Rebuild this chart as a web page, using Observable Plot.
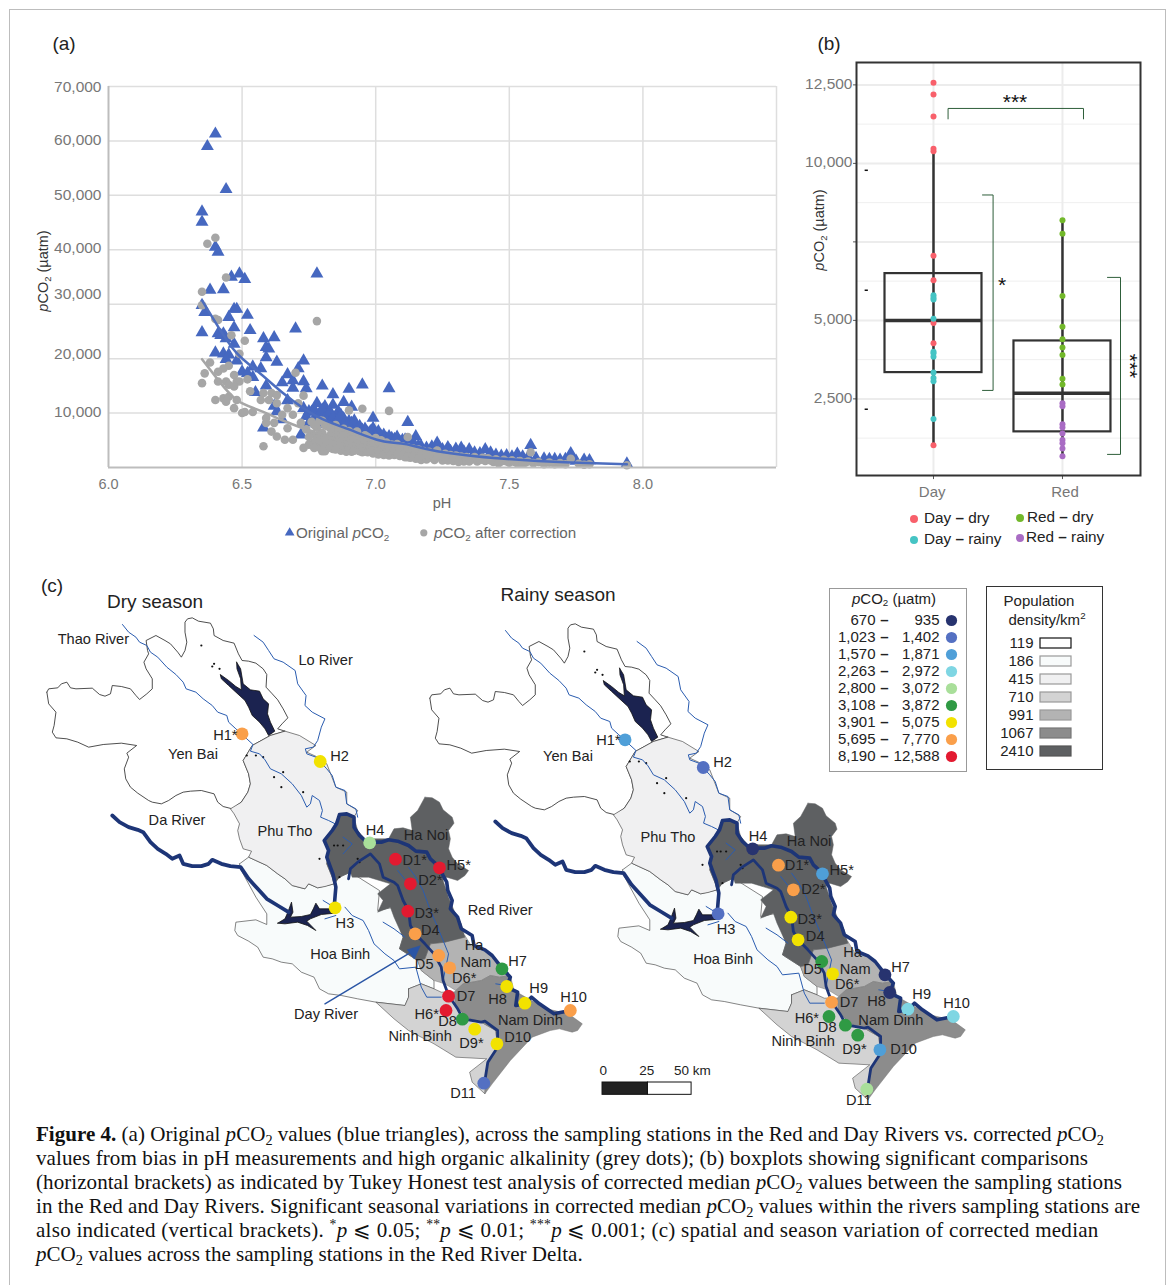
<!DOCTYPE html>
<html><head><meta charset="utf-8">
<script src="https://cdn.jsdelivr.net/npm/d3@7"></script>
<script src="https://cdn.jsdelivr.net/npm/@observablehq/plot@0.6"></script>
<style>
html,body{margin:0;padding:0;background:#fff;}
#page{position:relative;width:1171px;height:1285px;overflow:hidden;font-family:"Liberation Sans",Arial,sans-serif;}
#edge{position:absolute;left:9px;top:9px;width:1155px;height:1290px;border:1px solid #bdbdbd;}
.abs{position:absolute;}
.abs svg{display:block;overflow:visible;background:transparent;}
.lbl{position:absolute;white-space:nowrap;line-height:1;}
.lbl sub{font-size:65%;line-height:0;vertical-align:-0.3em;}
.cap{position:absolute;left:36px;white-space:nowrap;font-family:"Liberation Serif",serif;font-size:21.05px;line-height:1;color:#111;}
.cap sub{font-size:68%;line-height:0;vertical-align:-0.25em;}
</style></head>
<body><div id="page"><div id="edge"></div></div>
<script>
// ---------- panel (a): pH, pCO2 in thousands of µatm
const originalSparse = [[6.40,61.3],[6.37,59.0],[6.44,51.1],[6.35,47.0],[6.35,45.1],[6.40,40.5],[6.41,39.6],[6.46,35.0],[6.49,35.6],[6.51,34.6],[6.78,35.6],[6.38,32.6],[6.43,32.7],[6.35,29.8],[6.36,28.5],[6.47,29.1],[6.48,29.1],[6.45,27.6],[6.52,28.0],[6.35,24.8],[6.47,25.7],[6.53,25.2],[6.70,25.5],[6.41,24.6],[6.42,24.3],[6.43,24.6],[6.44,23.7],[6.58,23.7],[6.62,23.9],[6.47,22.7],[6.59,22.1],[6.60,21.8],[6.40,21.1],[6.43,20.9],[6.45,20.7],[6.44,19.9],[6.59,20.2],[6.48,19.6],[6.63,19.4],[6.73,19.6],[6.71,18.2],[6.57,18.2],[6.50,17.6],[6.54,18.5],[6.52,17.3],[6.54,16.6],[6.67,17.1],[6.65,15.6],[6.69,16.0],[6.73,15.8],[6.74,14.5],[6.69,14.6],[6.80,15.0],[6.59,15.0],[6.95,15.2],[6.90,14.4],[7.05,14.5],[6.55,13.8],[6.84,13.4],[6.67,12.3],[6.88,12.0],[6.78,11.8],[6.81,11.2],[6.84,11.5],[6.91,11.1],[6.86,10.3],[6.73,10.9],[6.75,10.3],[6.62,11.3],[6.63,10.3],[6.99,9.1],[7.12,8.3],[6.90,8.5],[6.78,9.1],[6.58,7.3],[6.65,8.8],[7.15,5.7],[6.72,6.0],[7.58,4.1],[7.73,2.6],[7.94,0.7]];
const originalBand = [[6.76,10.2],[6.77,9.0],[6.79,10.0],[6.80,8.2],[6.82,9.6],[6.83,8.4],[6.85,9.4],[6.86,8.0],[6.88,9.0],[6.89,7.7],[6.91,8.2],[6.92,7.2],[6.94,7.6],[6.95,6.9],[6.96,7.1],[6.97,6.4],[6.98,6.6],[6.99,7.2],[7.00,6.3],[7.01,6.6],[7.02,5.8],[7.03,6.0],[7.04,5.3],[7.05,5.7],[7.06,5.4],[7.07,5.2],[7.08,5.6],[7.09,4.8],[7.10,5.0],[7.11,5.1],[7.13,4.4],[7.14,4.6],[7.16,4.0],[7.17,3.9],[7.19,3.6],[7.21,3.8],[7.23,4.5],[7.24,3.5],[7.25,3.3],[7.27,3.7],[7.28,3.0],[7.30,3.4],[7.32,3.6],[7.33,2.9],[7.35,3.3],[7.37,2.7],[7.39,2.6],[7.41,3.3],[7.43,2.7],[7.45,2.3],[7.47,2.1],[7.49,2.2],[7.51,2.0],[7.53,2.5],[7.55,2.0],[7.57,1.9],[7.60,1.7],[7.63,1.6],[7.65,1.5],[7.67,1.5],[7.69,1.4],[7.71,1.5],[7.75,1.2],[7.78,1.4],[7.80,1.3],[6.74,9.4],[6.75,8.2],[6.77,10.6],[6.78,8.0],[6.80,10.6],[6.81,9.0],[6.83,10.2],[6.84,9.2],[6.86,9.0],[6.87,9.6],[6.88,7.8],[6.90,7.6],[6.92,8.6],[6.93,7.0],[6.96,6.6],[6.98,5.9],[7.00,5.6],[7.03,5.2]];
const correctedSparse = [[6.40,42.2],[6.37,41.1],[6.44,34.9],[6.35,32.3],[6.35,29.8],[6.40,27.3],[6.41,27.1],[6.46,24.3],[6.51,23.3],[6.78,26.9],[6.49,20.9],[6.38,19.3],[6.36,17.3],[6.35,15.5],[6.45,18.7],[6.43,18.2],[6.41,17.6],[6.70,17.4],[6.41,15.8],[6.44,15.8],[6.45,15.2],[6.47,17.0],[6.48,15.8],[6.49,15.8],[6.52,16.2],[6.47,14.9],[6.40,12.4],[6.43,12.7],[6.45,13.0],[6.44,12.1],[6.48,12.4],[6.47,10.9],[6.53,14.0],[6.50,10.0],[6.51,10.2],[6.54,10.2],[6.57,12.4],[6.58,13.7],[6.60,12.4],[6.61,13.7],[6.63,13.3],[6.63,11.8],[6.73,13.2],[6.67,10.9],[6.69,9.7],[6.59,9.1],[6.59,8.2],[6.62,8.2],[6.61,6.6],[6.63,5.7],[6.66,5.1],[6.69,5.1],[6.58,3.9],[6.67,7.2],[6.65,9.7],[6.73,3.6],[6.77,3.9],[6.80,3.0],[6.90,10.5],[6.95,10.8],[7.05,10.4],[7.12,5.6],[6.71,11.8],[7.58,2.8],[7.73,1.6],[7.94,0.4]];
const correctedBand = [[6.76,8.4],[6.76,6.2],[6.77,4.6],[6.78,7.3],[6.78,5.4],[6.79,3.7],[6.80,8.6],[6.80,6.4],[6.80,4.7],[6.81,3.0],[6.82,7.6],[6.82,5.5],[6.83,4.2],[6.84,6.7],[6.84,3.4],[6.85,7.8],[6.85,5.2],[6.86,4.1],[6.87,6.4],[6.87,3.1],[6.88,7.1],[6.88,5.0],[6.89,3.6],[6.90,6.7],[6.90,5.6],[6.90,4.3],[6.91,2.9],[6.92,6.2],[6.92,4.8],[6.93,3.5],[6.94,5.5],[6.94,4.1],[6.95,2.8],[6.96,5.9],[6.96,4.6],[6.97,3.4],[6.98,5.2],[6.98,3.9],[6.99,2.6],[7.00,5.4],[7.00,4.3],[7.00,3.1],[7.01,2.4],[7.02,5.0],[7.02,3.8],[7.03,2.9],[7.04,4.6],[7.04,3.4],[7.05,2.2],[7.06,4.2],[7.06,3.0],[7.07,2.3],[7.08,4.3],[7.08,3.3],[7.09,2.1],[7.10,3.9],[7.10,2.8],[7.11,1.9],[7.12,3.7],[7.12,2.5],[7.13,1.8],[7.14,3.5],[7.14,2.4],[7.15,1.6],[7.16,3.3],[7.16,2.2],[7.17,1.4],[7.18,3.0],[7.18,2.1],[7.19,1.5],[7.20,2.9],[7.20,1.8],[7.22,2.7],[7.22,1.4],[7.23,3.1],[7.24,2.1],[7.25,1.3],[7.26,2.5],[7.27,1.7],[7.28,2.3],[7.29,1.2],[7.30,2.2],[7.31,1.5],[7.32,2.0],[7.33,1.1],[7.34,1.9],[7.36,1.5],[7.37,1.9],[7.38,1.1],[7.40,1.8],[7.41,1.2],[7.42,1.7],[7.44,1.0],[7.45,1.5],[7.47,1.1],[7.48,1.4],[7.50,0.9],[7.51,1.3],[7.53,0.8],[7.54,1.2],[7.56,0.9],[7.57,1.1],[7.59,0.8],[7.61,1.0],[7.63,0.6],[7.65,0.9],[7.67,0.6],[7.69,0.8],[7.71,0.6],[7.76,0.7],[7.78,0.5],[7.80,0.6],[6.74,7.0],[6.72,8.2],[6.75,4.2],[6.79,6.0],[6.81,7.8],[6.83,5.9],[6.86,6.8],[6.88,3.9],[6.91,5.2],[6.93,6.6],[6.95,4.9],[6.97,5.6],[7.01,3.6],[7.03,4.2],[7.05,3.8],[7.07,3.6],[7.09,3.0],[7.11,3.3],[7.13,2.9],[7.15,2.8],[7.17,2.6],[7.19,2.4],[7.21,2.2],[7.23,1.9],[7.25,2.0],[7.27,1.3],[7.29,1.8],[7.31,1.0],[7.35,1.1],[7.39,1.4],[7.43,1.3],[7.46,0.8],[7.49,1.1],[7.52,1.0],[7.55,0.7],[6.75,5.6],[6.77,7.8],[6.77,3.6],[6.79,5.0],[6.79,8.6],[6.81,5.2],[6.81,3.9],[6.82,4.8],[6.83,7.2],[6.83,3.6],[6.84,5.0],[6.85,4.5],[6.85,3.3],[6.86,5.9],[6.87,5.3],[6.87,4.5],[6.88,5.9],[6.89,2.9],[6.89,4.7],[6.90,3.5],[6.91,4.0],[6.92,3.1],[6.93,4.3],[6.94,3.0],[6.95,3.7],[6.97,2.8],[6.98,3.1],[6.99,4.6],[7.01,4.8],[7.01,3.0],[7.03,2.3],[7.05,3.0],[7.06,2.5],[7.07,2.9],[7.08,2.6],[7.09,3.5],[7.10,2.3],[7.12,1.9],[7.14,2.0],[7.16,1.7]];
const originalTrend = [[6.35,30.7],[6.41,25.9],[6.48,21.0],[6.56,17.6],[6.66,13.4],[6.78,9.4],[6.90,7.0],[7.02,4.9],[7.11,4.3],[7.23,3.0],[7.48,1.6],[7.73,0.9],[7.94,0.6]];
const correctedTrend = [[6.35,19.9],[6.41,16.1],[6.48,12.4],[6.56,10.6],[6.66,8.5],[6.78,6.3],[6.90,4.5],[7.02,3.3]];
const yTicksA = [10000,20000,30000,40000,50000,60000,70000];
const yLabelAtA = [10200,20800,31800,40400,50100,60200,69900];
const xTicksA = [6,6.5,7,7.5,8];

// ---------- panel (b)
const rivers = ["Day","Red"];
const dayDry = [12565,12190,11490,10470,10390,7060,6280,4914,4270,1020];
const dayRainy = [5800,5720,5665,5050,4000,3950,3840,3340,3165,3060,1860];
const redDry = [8190,7760,5780,4800,4400,4140,3895,3140,2960];
const redRainy = [2360,2265,1695,1590,1395,1190,1085,920,675];
const boxLow = [3337,1450], boxMid = [5000,2680], boxHigh = [6490,4345], whiskLow = [1020,675], whiskHigh = [10390,8190];
const yMajorB = [2500,5000,7500,10000,12500];
const yMinorB = [1250,3750,6250,8750,11250];
const yLabelsB = [[12500,"12,500"],[10000,"10,000"],[5000,"5,000"],[2500,"2,500"]];
const strayDashes = [2170,5960,9780];
const bracketTop = [[0.113,11417],[0.113,11750],[1.163,11750],[1.163,11417]];
const bracketDay = [[0.38,8994],[0.462,8994],[0.462,2770],[0.38,2770]];
const bracketRed = [[1.349,6369],[1.45,6369],[1.45,732],[1.349,732]];

// ---------- panel (c): outlines traced in map units
const yenBai = [[45,275],[50,265],[75,262],[85,250],[100,245],[110,262],[125,265],[170,263],[190,282],[205,287],[220,280],[225,255],[250,258],[275,265],[290,285],[300,297],[320,280],[335,265],[335,235],[318,205],[312,185],[325,160],[322,150],[318,120],[345,105],[370,120],[385,130],[405,155],[415,170],[425,150],[430,125],[425,95],[425,65],[432,55],[445,52],[462,62],[495,68],[503,85],[505,105],[530,120],[560,128],[572,160],[582,180],[600,182],[620,188],[640,205],[650,222],[648,260],[665,280],[680,298],[695,325],[708,352],[692,370],[680,385],[700,392],[660,405],[610,435],[585,480],[600,520],[605,550],[598,575],[580,605],[555,625],[530,618],[515,605],[505,580],[470,570],[440,572],[420,575],[400,585],[380,600],[360,610],[335,605],[325,600],[295,578],[275,560],[262,535],[258,505],[270,470],[265,458],[292,435],[250,428],[200,432],[160,440],[130,425],[100,415],[70,412],[60,395],[65,375],[70,335],[50,310]];
const phuTho = [[700,392],[740,405],[785,435],[760,455],[790,470],[815,490],[840,560],[870,575],[870,610],[900,630],[890,650],[850,640],[835,680],[810,715],[820,760],[815,790],[830,830],[835,850],[810,858],[790,862],[765,850],[755,865],[720,855],[700,835],[680,820],[650,795],[620,780],[600,770],[608,752],[585,745],[575,715],[570,690],[575,670],[560,640],[550,625],[580,605],[598,575],[605,550],[600,520],[585,480],[610,435],[660,405]];
const hoaBinh = [[575,790],[600,770],[620,780],[650,795],[680,820],[700,835],[720,855],[755,865],[765,850],[790,862],[835,850],[850,830],[880,815],[960,870],[955,930],[1000,920],[1010,960],[1025,1010],[1015,1045],[1065,1080],[1075,1110],[1110,1140],[1110,1165],[1075,1150],[1040,1165],[1040,1190],[1030,1215],[950,1205],[900,1195],[855,1185],[820,1180],[795,1165],[780,1130],[745,1115],[720,1090],[690,1085],[665,1075],[640,1070],[625,1040],[600,1022],[570,1005],[562,990],[565,965],[620,958],[650,972],[650,940],[620,890],[580,810]];
const haNoi = [[1085,590],[1105,592],[1125,605],[1135,628],[1160,650],[1165,668],[1150,690],[1155,715],[1150,745],[1160,770],[1175,790],[1205,810],[1195,825],[1175,840],[1145,830],[1135,840],[1150,890],[1165,930],[1185,970],[1195,1010],[1140,1025],[1100,1030],[1085,1075],[1065,1080],[1015,1045],[1025,1010],[1000,950],[990,920],[955,935],[970,900],[955,880],[990,850],[930,830],[885,830],[880,815],[850,830],[835,850],[830,830],[815,790],[820,760],[808,715],[835,680],[850,640],[890,650],[900,690],[920,715],[985,715],[1000,685],[1025,682],[1050,690],[1045,650],[1065,630]];
const haNam = [[1195,1005],[1215,1040],[1250,1050],[1290,1090],[1320,1125],[1290,1130],[1265,1125],[1240,1140],[1190,1150],[1170,1170],[1140,1150],[1110,1140],[1075,1110],[1065,1080],[1085,1075],[1100,1030],[1140,1025]];
const namDinh = [[1320,1125],[1330,1170],[1370,1195],[1420,1225],[1480,1240],[1518,1270],[1505,1290],[1490,1295],[1455,1285],[1430,1290],[1380,1310],[1320,1380],[1270,1450],[1250,1480],[1255,1400],[1285,1340],[1280,1290],[1240,1265],[1200,1250],[1170,1215],[1165,1175],[1190,1150],[1240,1140],[1265,1125],[1290,1130]];
const ninhBinh = [[1040,1165],[1075,1150],[1110,1165],[1130,1175],[1165,1175],[1170,1215],[1200,1250],[1240,1265],[1280,1290],[1285,1340],[1255,1400],[1250,1480],[1215,1445],[1208,1415],[1255,1375],[1170,1370],[1110,1330],[1040,1290],[1000,1255],[950,1205],[1030,1215],[1040,1190]];
const thaoRiver = [[253,72],[270,95],[290,110],[300,125],[320,135],[330,155],[350,170],[375,200],[400,222],[420,245],[428,265],[455,275],[475,295],[500,315],[515,335],[540,345],[545,365],[565,385],[590,410],[612,432],[605,452],[630,460],[645,478],[660,505],[690,520],[720,550],[745,585],[760,620],[770,610],[775,585],[795,600],[803,630],[798,650],[820,660],[842,672]];
const loRiver = [[615,105],[640,125],[655,150],[670,175],[695,185],[728,210],[735,250],[758,285],[755,315],[775,335],[810,355],[800,380],[790,420],[778,440],[756,445],[760,460],[785,470],[815,505],[830,525],[840,560],[865,570],[870,610],[895,625],[900,650]];
const daRiver = [[225,645],[245,665],[270,680],[295,688],[310,695],[330,725],[350,745],[372,760],[390,775],[410,765],[420,790],[445,797],[470,797],[490,790],[500,778],[525,790],[550,797],[578,800],[600,835],[625,865],[650,895],[680,915],[710,935]];
const redRiver = [[835,925],[838,885],[840,860],[832,820],[825,800],[815,770],[820,750],[808,720],[830,690],[842,670],[850,642],[870,640],[890,650],[890,680],[905,705],[925,725],[965,725],[985,718],[1010,722],[1040,735],[1060,752],[1090,755],[1100,775],[1125,800],[1135,825],[1145,845],[1148,870],[1160,900],[1155,925],[1175,950],[1185,985],[1215,1005],[1220,1035],[1250,1048],[1270,1065],[1295,1100],[1320,1130],[1310,1160],[1340,1175],[1335,1215],[1360,1210],[1378,1190],[1400,1210],[1420,1225],[1440,1240],[1485,1230]];
const dayRiver = [[875,835],[880,805],[900,785],[935,760],[960,790],[970,830],[1000,845],[1010,855],[1025,900],[1040,930],[1045,975],[1058,1000],[1085,1030],[1110,1060],[1130,1100],[1135,1140],[1150,1185],[1175,1225],[1190,1255],[1240,1265],[1250,1262],[1285,1290],[1285,1340],[1258,1385],[1250,1440]];
const thinRivers = [
 [[970,965],[1000,985],[1030,1010]],
 [[865,920],[885,945],[915,960],[930,990],[945,1030],[975,1060],[1000,1080],[1015,1105],[1060,1100],[1075,1160],[1090,1190],[1130,1190]],
 [[1040,800],[1060,830],[1080,870],[1100,930],[1120,980],[1150,1060],[1135,1140]],
 [[1010,810],[1040,850]],
 [[1280,1150],[1310,1155]],
 [[860,710],[885,730],[860,760]],
 [[805,900],[838,922]],
 [[810,955],[840,945]]
];
const thacBaLake = [[567,185],[578,205],[585,250],[605,268],[630,272],[640,295],[655,310],[652,340],[660,365],[672,392],[655,405],[645,385],[630,365],[610,345],[600,320],[590,300],[565,275],[545,255],[525,235],[522,222],[545,240],[565,258],[580,268],[578,235],[568,205]];
const hoaBinhLake = [[680,968],[700,955],[708,935],[718,905],[722,935],[715,950],[745,948],[770,942],[778,925],[785,908],[795,925],[838,925],[838,938],[800,942],[770,955],[760,962],[785,990],[762,975],[735,965],[700,970]];
const islets = [[505,190],[520,205],[500,198],[595,465],[620,465],[640,470],[695,515],[670,530],[690,560],[750,575],[860,735],[905,785],[795,775],[845,735],[835,735],[470,135],[900,775],[850,830]];
const dayRiverArrow = [{x1:810,y1:1210,x2:1062,y2:1045}];
const arrowHead = [[1072,1036],[1036,1048],[1056,1076]];

const binNames = ["670","1,023","1,570","2,263","2,800","3,108","3,901","5,695","8,190"];
const binEnds = ["935","1,402","1,871","2,972","3,072","3,872","5,075","7,770","12,588"];
const binColors = ["#27336f","#5470c2","#4f9fd8","#7fd6e3","#a9df9a","#2f9a44","#f2e200","#fa9f4a","#e31a30"];

const stationMapPos = {H1:[582,400],H2:[797,483],H3:[838,922],H4:[933,727],H5:[1125,802],H6:[1143,1230],H7:[1297,1105],H8:[1310,1158],H9:[1360,1208],H10:[1485,1230],D1:[1004,776],D2:[1045,850],D3:[1038,932],D4:[1058,1000],D5:[1123,1065],D6:[1153,1102],D7:[1150,1187],D8:[1188,1256],D9:[1222,1286],D10:[1283,1330],D11:[1247,1448]};
const dryBins = {H1:7,H2:6,H3:6,H4:4,H5:8,H6:8,H7:5,H8:6,H9:6,H10:7,D1:8,D2:8,D3:8,D4:7,D5:7,D6:7,D7:8,D8:5,D9:6,D10:6,D11:1};
const rainyBins = {H1:2,H2:1,H3:1,H4:0,H5:2,H6:5,H7:0,H8:0,H9:3,H10:3,D1:7,D2:7,D3:6,D4:6,D5:5,D6:6,D7:7,D8:5,D9:5,D10:2,D11:4};
const dryLabels = [["Thao River",173,117],["Lo River",812,178],["Yen Bai",447,460],["H1*",536,403],["H2",850,468],["Da River",403,660],["Phu Tho",700,693],["H4",948,690],["Ha Noi",1088,703],["D1*",1057,778],["H5*",1178,793],["D2*",1100,840],["Red River",1292,930],["D3*",1090,938],["H3",865,968],["D4",1100,990],["Hoa Binh",852,1060],["Ha",1220,1033],["Nam",1225,1085],["D5",1083,1090],["H7",1340,1083],["D6*",1193,1133],["H9",1398,1162],["H8",1285,1195],["D7",1198,1187],["H10",1494,1190],["Day River",813,1240],["H6*",1090,1240],["D8",1147,1262],["Nam Dinh",1375,1260],["Ninh Binh",1072,1306],["D10",1340,1310],["D9*",1213,1327],["D11",1190,1477]];
const rainyLabels = [["Yen Bai",425,450],["H1*",536,402],["H2",850,467],["Phu Tho",700,693],["H4",948,690],["Ha Noi",1088,703],["D1*",1055,777],["H5*",1178,792],["D2*",1100,847],["D3*",1090,937],["H3",860,967],["D4",1105,990],["Hoa Binh",852,1058],["Ha",1208,1037],["Nam",1215,1088],["D5",1098,1088],["H7",1340,1083],["D6*",1193,1132],["H9",1398,1162],["H8",1274,1185],["D7",1198,1187],["H10",1494,1190],["H6*",1082,1236],["D8",1138,1261],["Nam Dinh",1313,1240],["Ninh Binh",1072,1303],["D9*",1213,1327],["D10",1348,1327],["D11",1225,1480]];
const scaleBarText = [["0",522,1392],["25",642,1392],["50 km",767,1392]];
const densityValues = ["119","186","415","710","991","1067","2410"];
const densityColors = ["#ffffff","#f8fbfb","#f0f0f1","#d3d3d3","#b3b3b3","#8c8c8c","#5e6062"];
const densityStrokes = ["#111","#999","#999","#999","#999","#777","#555"];

const captionLines = [
 '<b>Figure 4.</b> (a) Original <i>p</i>CO<sub>2</sub> values (blue triangles), across the sampling stations in the Red and Day Rivers vs. corrected <i>p</i>CO<sub>2</sub>',
 'values from bias in pH measurements and high organic alkalinity (grey dots); (b) boxplots showing significant comparisons',
 '(horizontal brackets) as indicated by Tukey Honest test analysis of corrected median <i>p</i>CO<sub>2</sub> values between the sampling stations',
 'in the Red and Day Rivers. Significant seasonal variations in corrected median <i>p</i>CO<sub>2</sub> values within the rivers sampling stations are',
 'also indicated (vertical brackets). <sup style="font-size:65%;line-height:0">*</sup><i>p</i> ⩽ 0.05; <sup style="font-size:65%;line-height:0">**</sup><i>p</i> ⩽ 0.01; <sup style="font-size:65%;line-height:0">***</sup><i>p</i> ⩽ 0.001; (c) spatial and season variation of corrected median',
 '<i>p</i>CO<sub>2</sub> values across the sampling stations in the Red River Delta.'
];
const captionTops = [1124,1148,1172,1196,1220,1244];
const captionTracking = [0,0.09,0.05,0.03,0.25,0];

// ---------- helpers
const page = document.getElementById("page");
function place(node,left,top){const d=document.createElement("div");d.className="abs";d.style.left=left+"px";d.style.top=top+"px";d.appendChild(node);page.appendChild(d);}
function label(html,x,y,o={}){const d=document.createElement("div");d.className="lbl";d.innerHTML=html;d.style.left=x+"px";d.style.top=y+"px";
 d.style.fontSize=(o.size||15)+"px";d.style.color=o.color||"#222";
 d.style.transform=`translate(${o.anchor==="start"?"0":"-50%"},-50%) rotate(${o.rotate||0}deg)`;page.appendChild(d);}

// ---------- (a)
const gridC="#dedede", axisC="#bdbdbd", blue="#4668c0", grey="#a6a6a6";
const fA="Liberation Sans";
place(Plot.plot({width:800,height:490,marginLeft:108,marginRight:24,marginTop:26,marginBottom:83,
 style:{background:"transparent",fontFamily:fA},
 x:{domain:[6,8.5],axis:null},y:{domain:[0,70000],axis:null},
 marks:[
  Plot.ruleY(yTicksA,{stroke:gridC,strokeWidth:1.5}),
  Plot.ruleX([6.5,7,7.5,8,8.5],{stroke:gridC,strokeWidth:1.5}),
  Plot.dot(originalSparse.concat(originalBand),{x:d=>d[0],y:d=>d[1]*1000,symbol:"triangle",r:4.8,fill:blue}),
  Plot.dot(correctedSparse.concat(correctedBand),{x:d=>d[0],y:d=>d[1]*1000,r:4.3,fill:grey}),
  Plot.line(correctedTrend,{x:d=>d[0],y:d=>d[1]*1000,stroke:grey,strokeWidth:2.5,curve:"natural"}),
  Plot.line(originalTrend,{x:d=>d[0],y:d=>d[1]*1000,stroke:"#4c6dbf",strokeWidth:2.5,curve:"natural"}),
  Plot.ruleX([6],{stroke:axisC,strokeWidth:2}),
  Plot.ruleY([0],{stroke:axisC,strokeWidth:2}),
  Plot.text(yTicksA,{x:6,y:(d,i)=>yLabelAtA[i],text:d=>d3.format(",")(d),textAnchor:"end",dx:-7,fontSize:15.5,fill:"#777"}),
  Plot.text(xTicksA,{x:d=>d,y:0,text:d=>d.toFixed(1),dy:17,fontSize:14.5,fill:"#777"}),
  Plot.dot([[6.678,-12000]],{x:d=>d[0],y:d=>d[1],symbol:"triangle",r:3.6,fill:blue}),
  Plot.dot([[7.18,-12000]],{x:d=>d[0],y:d=>d[1],r:3.6,fill:grey})
 ]}),0,60);
label("pH",442,503,{color:"#666",size:14.5});
label('<i>p</i>CO<sub>2</sub> (µatm)',43,271,{rotate:-90,size:14.5,color:"#333"});
label('Original <i>p</i>CO<sub>2</sub>',296,533,{anchor:"start",color:"#666",size:15.2});
label('<i>p</i>CO<sub>2</sub> after correction',434,533,{anchor:"start",color:"#666",size:15.2});
label("(a)",64,43,{size:19,color:"#222"});

// ---------- (b)
const dotsB=[].concat(
 dayDry.map(v=>({x:0,v,c:"#f8606b"})),dayRainy.map(v=>({x:0,v,c:"#45c4c4"})),
 redDry.map(v=>({x:1,v,c:"#72b82b"})),redRainy.map(v=>({x:1,v,c:"#a96cc4"})));
const bracketStroke="#2e5e3a";
const w=0.376;
place(Plot.plot({width:360,height:460,marginLeft:56,marginRight:20,marginTop:22,marginBottom:25,
 style:{background:"transparent",fontFamily:fA},
 x:{domain:[-0.597,1.605],axis:null},y:{domain:[60,13213],axis:null},
 marks:[
  Plot.ruleY(yMinorB,{stroke:"#efefef",strokeWidth:1}),
  Plot.ruleY(yMajorB,{stroke:"#ececec",strokeWidth:2}),
  Plot.ruleX([0,1],{stroke:"#ececec",strokeWidth:2}),
  Plot.ruleX([0,1],{y1:(d,i)=>whiskLow[i],y2:(d,i)=>whiskHigh[i],stroke:"#333",strokeWidth:2.5}),
  Plot.rect([0,1],{x1:d=>d-w,x2:d=>d+w,y1:(d,i)=>boxLow[i],y2:(d,i)=>boxHigh[i],stroke:"#333",strokeWidth:2.2,fill:"none"}),
  Plot.ruleY([0,1],{x1:d=>d-w,x2:d=>d+w,y:(d,i)=>boxMid[i],stroke:"#333",strokeWidth:3.5}),
  Plot.dot(dotsB,{x:"x",y:"v",fill:"c",r:3}),
  Plot.line(bracketTop,{x:d=>d[0],y:d=>d[1],stroke:bracketStroke,strokeWidth:1}),
  Plot.line(bracketDay,{x:d=>d[0],y:d=>d[1],stroke:bracketStroke,strokeWidth:1}),
  Plot.line(bracketRed,{x:d=>d[0],y:d=>d[1],stroke:bracketStroke,strokeWidth:1}),
  Plot.ruleY(strayDashes,{x1:-0.53,x2:-0.505,stroke:"#111",strokeWidth:1.5}),
  Plot.ruleY(yMajorB,{x1:-0.597,x2:-0.62,stroke:"#555",strokeWidth:1}),
  Plot.ruleX([0,1],{y1:60,y2:-70,stroke:"#555",strokeWidth:1}),
  Plot.frame({stroke:"#333",strokeWidth:2}),
  Plot.text(yLabelsB,{x:-0.597,y:d=>d[0],text:d=>d[1],textAnchor:"end",dx:-4,dy:-1,fontSize:15.5,fill:"#777"}),
  Plot.text(rivers,{x:(d,i)=>[-0.01,1.02][i],y:60,text:d=>d,dy:17,fontSize:15,fill:"#777"})
 ]}),800,40);
label("(b)",829,43,{size:19,color:"#222"});
label('<i>p</i>CO<sub>2</sub> (µatm)',819,230,{rotate:-90,size:14.5,color:"#333"});
label("***",1015,101,{size:21,color:"#111"});
label("*",1002,284,{size:21,color:"#111"});
label("***",1130,366,{size:21,color:"#111",rotate:90});
[["Day <b>–</b> dry",924,518,"#f8606b",914],["Day <b>–</b> rainy",924,539,"#45c4c4",914],["Red <b>–</b> dry",1027,517,"#72b82b",1020],["Red <b>–</b> rainy",1026,537,"#a96cc4",1020]].forEach(r=>{
 label(r[0],r[1],r[2],{anchor:"start",size:15.3,color:"#222"});
 const s=document.createElement("div");s.style.cssText=`position:absolute;left:${r[4]-4}px;top:${r[2]-3}px;width:8px;height:8px;border-radius:50%;background:${r[3]}`;page.appendChild(s);
});

// ---------- (c)
const scaleLabelFont={fontSize:14.6,fill:"#222"};
function closed(p){return p.concat([p[0]]);}
function mapPlot(bins,labels,extras){
 const stations=Object.keys(stationMapPos).map(k=>({p:stationMapPos[k],c:binColors[bins[k]]}));
 const area=(p,fill,stroke,sw)=>Plot.line(closed(p),{x:d=>d[0],y:d=>d[1],fill,stroke,strokeWidth:sw,curve:"linear"});
 const river=(p,stroke,sw)=>Plot.line(p,{x:d=>d[0],y:d=>d[1],stroke,strokeWidth:sw,curve:"linear"});
 return Plot.plot({width:570,height:510,margin:0,style:{background:"transparent",fontFamily:fA},
  x:{domain:[0,1568],range:[0,570],axis:null},y:{domain:[0,1530],range:[0,510],axis:null},
  marks:[
   area(yenBai,"#fff","#222",0.8),
   area(hoaBinh,"#f8fbfb","#333",0.6),
   area(phuTho,"#f0f0f1","#333",0.6),
   area(ninhBinh,"#d3d3d3","#333",0.5),
   area(haNam,"#b3b3b3","#777",0.5),
   area(namDinh,"#8c8c8c","#777",0.5),
   area(haNoi,"#5e6062","#5e6062",0.5),
   area(thacBaLake,"#1b2350","#111",0.8),
   area(hoaBinhLake,"#1b2350","#111",0.8),
   Plot.dot(islets,{x:d=>d[0],y:d=>d[1],r:1.1,fill:"#111"}),
   ...thinRivers.map(r=>river(r,"#2a5cb0",1)),
   river(thaoRiver,"#2a5cb0",1),
   river(loRiver,"#2a5cb0",1),
   river(daRiver,"#1d3577",3.8),
   river(redRiver,"#1d3577",3.6),
   river(dayRiver,"#1d3577",2.8),
   ...extras,
   Plot.dot(stations,{x:d=>d.p[0],y:d=>d.p[1],fill:"c",r:6.4}),
   Plot.text(labels,{x:d=>d[1],y:d=>d[2],text:d=>d[0],...scaleLabelFont})
  ]});
}
place(mapPlot(dryBins,dryLabels,[
 Plot.arrow(dayRiverArrow,{x1:"x1",y1:"y1",x2:"x2",y2:"y2",stroke:"#2a55a5",strokeWidth:1.4,headLength:0,bend:0}),
 Plot.line(closed(arrowHead),{x:d=>d[0],y:d=>d[1],fill:"#2a55a5",stroke:"#2a55a5",strokeWidth:0.5})
]),30,600);
place(mapPlot(rainyBins,rainyLabels,[
 Plot.rect([0],{x1:520,x2:645,y1:1428,y2:1465,fill:"#222",stroke:"#111"}),
 Plot.rect([0],{x1:645,x2:765,y1:1428,y2:1465,fill:"#fff",stroke:"#111"}),
 Plot.text(scaleBarText,{x:d=>d[1],y:d=>d[2],text:d=>d[0],fontSize:13.5,fill:"#222"})
]),413,606);
label("Dry season",155,601,{size:19,color:"#222"});
label("Rainy season",558,594,{size:19,color:"#222"});
label("(c)",52,585,{size:19,color:"#222"});

// ---------- legends
const legRows=binNames.map((n,i)=>({lo:n,hi:binEnds[i],c:binColors[i]}));
place(Plot.plot({width:138,height:184,margin:0,style:{background:"#fff",fontFamily:fA,outline:"1.5px solid #999",outlineOffset:"-1px",overflow:"visible"},
 x:{domain:[0,138],range:[0,138],axis:null},y:{domain:binNames,type:"point",range:[29,170],padding:0,axis:null},
 marks:[
  Plot.text(legRows,{x:46,y:"lo",text:"lo",textAnchor:"end",fontSize:15,fill:"#222"}),
  Plot.text(legRows,{x:55,y:"lo",text:()=>"–",fontWeight:"bold",fontSize:15,fill:"#222"}),
  Plot.text(legRows,{x:110,y:"lo",text:"hi",textAnchor:"end",fontSize:15,fill:"#222"}),
  Plot.dot(legRows,{x:122,y:"lo",r:5.6,fill:"c"})
 ]}),829,588);
label('<i>p</i>CO<sub>2</sub> (µatm)',894,598,{size:15});
const denRows=densityValues.map((n,i)=>({v:n,c:densityColors[i],s:densityStrokes[i]}));
place(Plot.plot({width:117,height:184,margin:0,style:{background:"#fff",fontFamily:fA,outline:"1.5px solid #333",outlineOffset:"-1px",overflow:"visible"},
 x:{domain:[0,117],range:[0,117],axis:null},y:{domain:densityValues,range:[48.5,173.5],paddingInner:0.42,paddingOuter:0,axis:null},
 marks:[
  Plot.barX(denRows,{x1:54,x2:85,y:"v",fill:"c",stroke:"s",strokeWidth:1.2}),
  Plot.text(denRows,{x:47,y:"v",text:"v",textAnchor:"end",fontSize:15,fill:"#222"})
 ]}),986,586);
label("Population",1039,600,{size:15});
label("density/km<sup style='font-size:65%;line-height:0'>2</sup>",1047,619,{size:15});

// ---------- caption
captionLines.forEach((t,i)=>{const d=document.createElement("div");d.className="cap";d.style.top=captionTops[i]+"px";d.style.letterSpacing=captionTracking[i]+"px";d.innerHTML=t;page.appendChild(d);});
</script>
</body></html>
